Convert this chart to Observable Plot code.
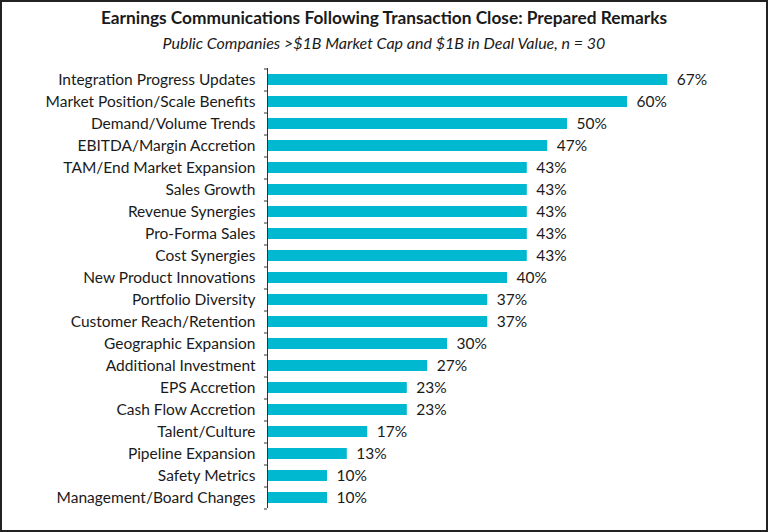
<!DOCTYPE html>
<html>
<head>
<meta charset="utf-8">
<script src="https://cdn.jsdelivr.net/npm/d3@7"></script>
<script src="https://cdn.jsdelivr.net/npm/@observablehq/plot@0.6"></script>
<style>
  html, body { margin: 0; padding: 0; background: #fff; }
  #frame {
    width: 768px; height: 532px; box-sizing: border-box;
    border: 2px solid #222; background: #fff; overflow: hidden;
    font-family: Lato, "Noto Sans", sans-serif; color: #1a1a1a;
  }
  #title { margin-top: 5px; height: 22px; line-height: 22px; text-align: center; font-weight: 700; font-size: 17.3px; }
  #subtitle { padding-top: 2px; height: 22px; line-height: 24px; text-align: center; font-style: italic; font-size: 16px; }
  svg { display: block; }
</style>
</head>
<body>
<div id="frame">
  <div id="title">Earnings Communications Following Transaction Close: Prepared Remarks</div>
  <div id="subtitle">Public Companies &gt;$1B Market Cap and $1B in Deal Value, n = 30</div>
  <div id="chart"></div>
</div>
<script>
const categories = [
  "Integration Progress Updates",
  "Market Position/Scale Benefits",
  "Demand/Volume Trends",
  "EBITDA/Margin Accretion",
  "TAM/End Market Expansion",
  "Sales Growth",
  "Revenue Synergies",
  "Pro-Forma Sales",
  "Cost Synergies",
  "New Product Innovations",
  "Portfolio Diversity",
  "Customer Reach/Retention",
  "Geographic Expansion",
  "Additional Investment",
  "EPS Accretion",
  "Cash Flow Accretion",
  "Talent/Culture",
  "Pipeline Expansion",
  "Safety Metrics",
  "Management/Board Changes"
];
const values = [66.7, 60, 50, 46.7, 43.3, 43.3, 43.3, 43.3, 43.3, 40, 36.7, 36.7, 30, 26.7, 23.3, 23.3, 16.7, 13.3, 10, 10];

const data = categories.map((c, i) => ({category: c, value: values[i]}));
const barColor = "#00B8D0";
const lastCat = categories[categories.length - 1];

const chart = Plot.plot({
  width: 764,
  height: 468,
  marginTop: 15,
  marginBottom: 13,
  marginLeft: 265,
  marginRight: 79,
  style: {fontFamily: "Lato, 'Noto Sans', sans-serif", color: "#1a1a1a", background: "#fff"},
  x: {domain: [0, 70], axis: null},
  y: {domain: categories, paddingInner: 0.5, paddingOuter: 0.25, align: 0.5},
  marks: [
    Plot.barX(data, {x: "value", y: "category", fill: barColor}),
    Plot.text(data, {
      x: "value", y: "category",
      text: d => Math.round(d.value) + "%",
      textAnchor: "start", dx: 9, fontSize: 15.5, fill: "#1a1a1a"
    }),
    // label axis
    Plot.axisY({tickSize: 0, tickPadding: 12, fontSize: 15.5, label: null, fill: "#1a1a1a"}),
    // boundary ticks (top of each band)
    Plot.axisY({tickSize: 3, text: null, label: null, dy: -11, stroke: "#333"}),
    // bottom boundary tick
    Plot.axisY({ticks: [lastCat], tickSize: 3, text: null, label: null, dy: 11, stroke: "#333"}),
    Plot.ruleX([0], {stroke: "#333", strokeWidth: 1})
  ]
});
document.getElementById("chart").appendChild(chart);
</script>
</body>
</html>
